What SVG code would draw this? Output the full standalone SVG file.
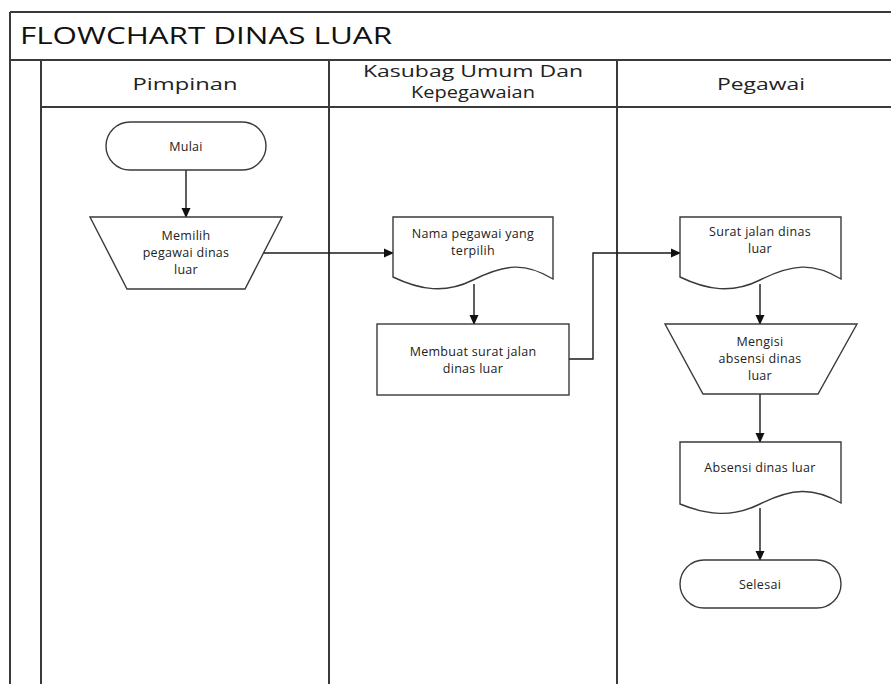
<svg xmlns="http://www.w3.org/2000/svg" width="891" height="684" viewBox="0 0 891 684">
<style>
.lane{stroke:#3a3a3a;stroke-width:2;fill:none}
.shape{fill:#fff;stroke:#3a3a3a;stroke-width:1.4}
.conn{stroke:#1a1a1a;stroke-width:1.4;fill:none}
.t{font-family:"Open Sans","Noto Sans",sans-serif;font-size:12.5px;fill:#222;text-anchor:middle;letter-spacing:0.3px}
.h{font-family:"Open Sans","Noto Sans",sans-serif;font-size:17px;fill:#222;text-anchor:middle}
.title{font-family:"Open Sans","Noto Sans",sans-serif;font-size:23px;fill:#111}
</style>
<defs>
<marker id="arr" markerWidth="10" markerHeight="10" refX="9" refY="5" orient="auto" markerUnits="userSpaceOnUse">
<path d="M0,0.5 L10,5 L0,9.5 z" fill="#111"/>
</marker>
</defs>
<rect width="891" height="684" fill="#fff"/>
<g id="frame">
<line class="lane" x1="10" y1="12" x2="891" y2="12"/>
<line class="lane" x1="10" y1="60" x2="891" y2="60"/>
<line class="lane" x1="41" y1="107" x2="891" y2="107"/>
<line class="lane" x1="10" y1="12" x2="10" y2="684"/>
<line class="lane" x1="41" y1="60" x2="41" y2="684"/>
<line class="lane" x1="329" y1="60" x2="329" y2="684"/>
<line class="lane" x1="617" y1="60" x2="617" y2="684"/>
<text class="title" x="20" y="44" textLength="372" lengthAdjust="spacingAndGlyphs">FLOWCHART DINAS LUAR</text>
<text class="h" x="185" y="90" textLength="105" lengthAdjust="spacingAndGlyphs">Pimpinan</text>
<text class="h" x="473" y="77" textLength="220" lengthAdjust="spacingAndGlyphs">Kasubag Umum Dan</text>
<text class="h" x="473" y="98" textLength="124" lengthAdjust="spacingAndGlyphs">Kepegawaian</text>
<text class="h" x="761" y="90" textLength="88" lengthAdjust="spacingAndGlyphs">Pegawai</text>
</g>
<g id="connectors">
<line class="conn" x1="186" y1="170" x2="186" y2="217" marker-end="url(#arr)"/>
<line class="conn" x1="264" y1="253" x2="393" y2="253" marker-end="url(#arr)"/>
<line class="conn" x1="474" y1="284" x2="474" y2="324" marker-end="url(#arr)"/>
<polyline class="conn" points="569,359 593,359 593,253 680,253" marker-end="url(#arr)"/>
<line class="conn" x1="760" y1="284" x2="760" y2="324" marker-end="url(#arr)"/>
<line class="conn" x1="760" y1="394" x2="760" y2="442" marker-end="url(#arr)"/>
<line class="conn" x1="760" y1="508" x2="760" y2="560" marker-end="url(#arr)"/>
</g>
<g id="mulai">
<rect class="shape" x="106" y="122" width="160" height="48" rx="24" ry="24"/>
<text class="t" x="186" y="151">Mulai</text>
</g>
<g id="memilih">
<polygon class="shape" points="90,217 282,217 245,289 127,289"/>
<text class="t" x="186" y="240">Memilih</text>
<text class="t" x="186" y="257">pegawai dinas</text>
<text class="t" x="186" y="274">luar</text>
</g>
<g id="nama-pegawai">
<path class="shape" d="M393,217 H553 V279 C525,262 505,264 473,280 C445,294 420,290 393,277 Z"/>
<text class="t" x="473" y="238">Nama pegawai yang</text>
<text class="t" x="473" y="255">terpilih</text>
</g>
<g id="membuat-surat">
<rect class="shape" x="377" y="324" width="192" height="71"/>
<text class="t" x="473" y="356">Membuat surat jalan</text>
<text class="t" x="473" y="373">dinas luar</text>
</g>
<g id="surat-jalan">
<path class="shape" d="M680,217 H841 V279 C813,262 792,264 760,280 C732,294 707,290 680,277 Z"/>
<text class="t" x="760" y="236">Surat jalan dinas</text>
<text class="t" x="760" y="253">luar</text>
</g>
<g id="mengisi">
<polygon class="shape" points="665,324 857,324 818,394 703,394"/>
<text class="t" x="760" y="346">Mengisi</text>
<text class="t" x="760" y="363">absensi dinas</text>
<text class="t" x="760" y="380">luar</text>
</g>
<g id="absensi">
<path class="shape" d="M680,442 H841 V503 C813,487 792,488 760,504 C732,518 707,515 680,504 Z"/>
<text class="t" x="760" y="472">Absensi dinas luar</text>
</g>
<g id="selesai">
<rect class="shape" x="680" y="560" width="161" height="48" rx="24" ry="24"/>
<text class="t" x="760" y="589">Selesai</text>
</g>
</svg>
